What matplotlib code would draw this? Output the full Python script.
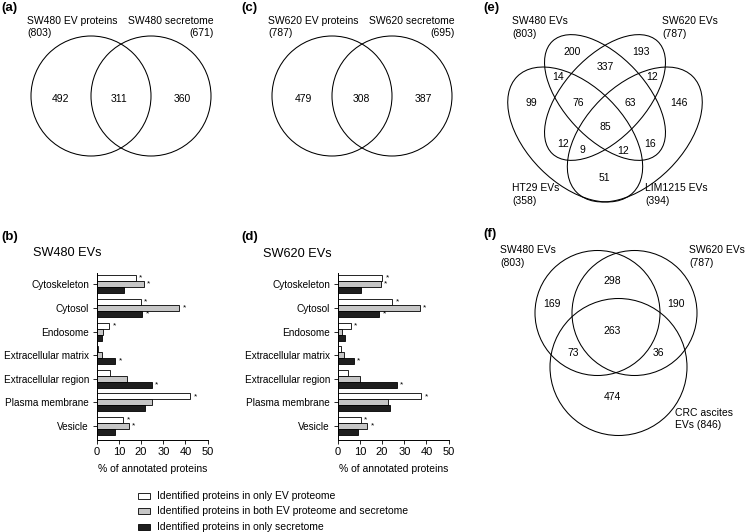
import matplotlib
matplotlib.use('Agg')
from matplotlib import pyplot as plt
from matplotlib.patches import Circle, Ellipse, Rectangle

plt.rcParams['font.family'] = ['Liberation Sans', 'DejaVu Sans']

# ---- data ----
categories = ["Cytoskeleton", "Cytosol", "Endosome", "Extracellular matrix",
              "Extracellular region", "Plasma membrane", "Vesicle"]

sw480_ev_only = [17.7, 19.8, 5.6, 0.5, 6.0, 42.2, 12.0]
sw480_both = [21.3, 37.1, 3.0, 2.6, 13.8, 24.8, 14.4]
sw480_sec_only = [12.3, 20.6, 2.6, 8.4, 24.8, 21.9, 8.1]

sw620_ev_only = [20.1, 24.5, 6.0, 1.3, 4.8, 37.6, 10.3]
sw620_both = [19.4, 36.9, 2.1, 2.7, 10.0, 22.5, 13.3]
sw620_sec_only = [10.7, 18.7, 3.4, 7.2, 26.6, 23.4, 9.0]

# significance stars (same pattern in both panels)
sig_ev_only = [1, 1, 1, 0, 0, 1, 1]
sig_both = [1, 1, 0, 0, 0, 0, 1]
sig_sec_only = [0, 1, 0, 1, 1, 0, 0]

legend_labels = ["Identified proteins in only EV proteome",
                 "Identified proteins in both EV proteome and secretome",
                 "Identified proteins in only secretome"]

venn_a_counts = [492, 311, 360]
venn_c_counts = [479, 308, 387]
venn_e_counts = [200, 193, 337, 14, 12, 99, 76, 63, 146, 85, 12, 9, 12, 16, 51]
venn_f_counts = [169, 298, 190, 263, 73, 36, 474]

FS = 7.5
LW = 0.75
bar_colors = ['white', '#c6c6c6', '#1e1e1e']

fig = plt.figure(figsize=(7.46, 5.32), dpi=100)

# background axes in pixel units (y down), for venn diagrams and free text
bg = fig.add_axes([0, 0, 1, 1])
bg.set_xlim(0, 746)
bg.set_ylim(532, 0)
bg.axis('off')


def txt(x, y, s, ha='left', size=FS, **kw):
    bg.text(x, y, s, ha=ha, va='center', fontsize=size, **kw)


def panel_label(x, y, s):
    txt(x, y, s, size=9.5, fontweight='bold')


# ---- (a) and (c): two-set venns ----
def venn2(x0, counts, top_left, top_right, n_left, n_right, xs):
    bg.add_patch(Circle((x0 + 91, 96), 60, fill=False, lw=LW))
    bg.add_patch(Circle((x0 + 151, 96), 60, fill=False, lw=LW))
    for c, x in zip(counts, xs):
        txt(x0 + x, 99, str(c), ha='center')
    txt(x0 + 27, 21, top_left)
    txt(x0 + 27, 33, "(%d)" % n_left)
    txt(x0 + 214, 21, top_right, ha='right')
    txt(x0 + 214, 33, "(%d)" % n_right, ha='right')


panel_label(1, 8, "(a)")
venn2(0, venn_a_counts, "SW480 EV proteins", "SW480 secretome", 803, 671, [61, 119, 182])
panel_label(241, 8, "(c)")
venn2(241, venn_c_counts, "SW620 EV proteins", "SW620 secretome", 787, 695, [62, 120, 182])

# ---- (e): four-set venn ----
panel_label(483, 8, "(e)")
# HT29, SW480, SW620, LIM1215
ellipses_e = [((575.2, 134.5), 164, 97.6, 45),
              ((605, 97.5), 154, 82, 47),
              ((605, 97.5), 154, 82, -47),
              ((634.8, 134.5), 164, 97.6, -45)]
for (cx, cy), w, h, ang in ellipses_e:
    bg.add_patch(Ellipse((cx, cy), w, h, angle=ang, fill=False, lw=LW))

venn_e_pos = [(572, 52), (641, 52), (605, 67), (558, 77), (652, 77), (531, 103),
              (578, 103), (630, 103), (679, 103), (605, 127), (563, 144), (582, 150),
              (623, 151), (650, 144), (604, 178)]
for c, (x, y) in zip(venn_e_counts, venn_e_pos):
    txt(x, y, str(c), ha='center')
txt(512, 21, "SW480 EVs")
txt(512, 34, "(803)")
txt(662, 21, "SW620 EVs")
txt(662, 34, "(787)")
txt(512, 188, "HT29 EVs")
txt(512, 201, "(358)")
txt(645, 188, "LIM1215 EVs")
txt(645, 201, "(394)")

# ---- (f): three-set venn ----
panel_label(483, 234, "(f)")
bg.add_patch(Circle((597.5, 313), 62.5, fill=False, lw=LW))
bg.add_patch(Circle((634.5, 313), 62.5, fill=False, lw=LW))
bg.add_patch(Circle((618.5, 367), 68.5, fill=False, lw=LW))
venn_f_pos = [(552, 304), (612, 281), (676, 304), (612, 331), (573, 353), (658, 353), (612, 397)]
for c, (x, y) in zip(venn_f_counts, venn_f_pos):
    txt(x, y, str(c), ha='center')
txt(500, 250, "SW480 EVs")
txt(500, 263, "(803)")
txt(689, 250, "SW620 EVs")
txt(689, 263, "(787)")
txt(675, 413, "CRC ascites")
txt(675, 425, "EVs (846)")


# ---- (b) and (d): bar charts ----
def bar_panel(left_px, series):
    ax = fig.add_axes([left_px / 746, (532 - 440) / 532, 111 / 746, 167 / 532])
    ax.set_facecolor('none')
    h = 0.254
    ypos = list(range(len(categories)))
    sigs = [sig_ev_only, sig_both, sig_sec_only]
    for k, vals in enumerate(series):
        yk = [y + (k - 1) * h for y in ypos]
        ax.barh(yk, vals, height=h, color=bar_colors[k], edgecolor='black', linewidth=0.6)
        for y, v, s in zip(yk, vals, sigs[k]):
            if s:
                ax.text(v + 1.5, y, '*', fontsize=6, ha='left', va='center')
    ax.set_xlim(0, 50)
    ax.set_ylim(6.59, -0.48)
    ax.set_xticks(range(0, 51, 10))
    ax.set_yticks(ypos)
    ax.set_yticklabels(categories)
    ax.tick_params(axis='both', length=3, width=0.6)
    ax.tick_params(axis='y', pad=2.5, labelsize=7.2)
    ax.tick_params(axis='x', labelsize=8, pad=2)
    for side in ['top', 'right']:
        ax.spines[side].set_visible(False)
    for side in ['left', 'bottom']:
        ax.spines[side].set_linewidth(0.7)
    ax.set_xlabel("% of annotated proteins", fontsize=FS, labelpad=5)
    return ax


panel_label(1, 237, "(b)")
txt(33, 253, "SW480 EVs", size=9.2)
bar_panel(96.7, [sw480_ev_only, sw480_both, sw480_sec_only])

panel_label(241, 237, "(d)")
txt(263, 254, "SW620 EVs", size=9.2)
bar_panel(337.7, [sw620_ev_only, sw620_both, sw620_sec_only])

# legend
for k, lab in enumerate(legend_labels):
    y = 496 + k * 15.3
    bg.add_patch(Rectangle((138, y - 3), 12, 6, facecolor=bar_colors[k], edgecolor='black', lw=0.6))
    txt(157, y, lab)

fig.savefig('out.png', dpi=100)
